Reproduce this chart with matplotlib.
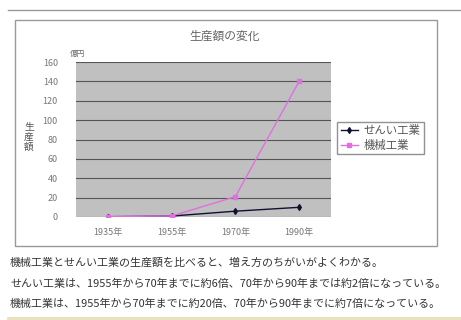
import matplotlib.pyplot as plt
from matplotlib.patches import Rectangle
from matplotlib.lines import Line2D

plt.rcParams['font.family'] = ['Noto Sans CJK JP', 'DejaVu Sans']

# データ（億円）
years = ['1935年', '1955年', '1970年', '1990年']
senui = [0.3, 1, 6, 10]
kikai = [0.5, 1, 21, 140]
yticks = [0, 20, 40, 60, 80, 100, 120, 140, 160]

title = '生産額の変化'
notes = [
    '機械工業とせんい工業の生産額を比べると、増え方のちがいがよくわかる。',
    'せんい工業は、1955年から70年までに約6倍、70年から90年までは約2倍になっている。',
    '機械工業は、1955年から70年までに約20倍、70年から90年までに約7倍になっている。',
]

W, H = 461, 320
fig = plt.figure(figsize=(W / 100, H / 100), dpi=100)


def fx(px):
    return px / W


def fy(py):
    return 1 - py / H


# 上の区切り線とグラフ枠
fig.add_artist(Line2D([fx(8), fx(461)], [fy(10), fy(10)], color='#999999', lw=1))
fig.add_artist(Rectangle((fx(15), fy(246)), fx(437) - fx(15), fy(20) - fy(246),
                         fill=False, edgecolor='#999999', lw=1))
fig.add_artist(Line2D([fx(8), fx(461)], [fy(318), fy(318)], color='#e8e0b8', lw=2))

ax = fig.add_axes([fx(76), fy(217), fx(331) - fx(76), fy(62) - fy(217)])
ax.set_facecolor('#c0c0c0')
x = range(len(years))
ax.plot(x, senui, color='#101030', lw=1, marker='d', ms=3, label='せんい工業')
ax.plot(x, kikai, color='#e070e0', lw=1, marker='s', ms=2.5, label='機械工業')
ax.set_xlim(-0.5, 3.5)
ax.set_ylim(0, 160)
ax.set_yticks(yticks)
ax.set_xticks(list(x))
ax.set_xticklabels(years)
ax.yaxis.grid(True, color='#555555', lw=0.8)
ax.set_axisbelow(True)
ax.tick_params(length=0, labelsize=6.5, colors='#777777')
ax.tick_params(axis='x', pad=8)
ax.tick_params(axis='y', pad=13)
for s in ax.spines.values():
    s.set_visible(False)

fig.text(fx(225), fy(36), title, ha='center', va='center', fontsize=8.5, color='#666666')
fig.text(fx(78), fy(54), '億円', ha='center', va='center', fontsize=5.5, color='#666666')
# 縦書きの軸ラベル
for i, ch in enumerate('生産額'):
    fig.text(fx(29), fy(127 + 10 * i), ch, ha='center', va='center', fontsize=7,
             color='#555555')

leg = ax.legend(loc='center left', bbox_to_anchor=(1.025, 0.51), fontsize=8.2,
                frameon=True, fancybox=False, edgecolor='#777777',
                borderpad=0.3, handlelength=1.5, handletextpad=0.5,
                labelspacing=0.35, borderaxespad=0)
for t in leg.get_texts():
    t.set_color('#555555')

for i, line in enumerate(notes):
    fig.text(fx(10), fy(263 + 20.5 * i), line, ha='left', va='center',
             fontsize=7.9, color='#333333')

fig.savefig('out.png', dpi=100)
